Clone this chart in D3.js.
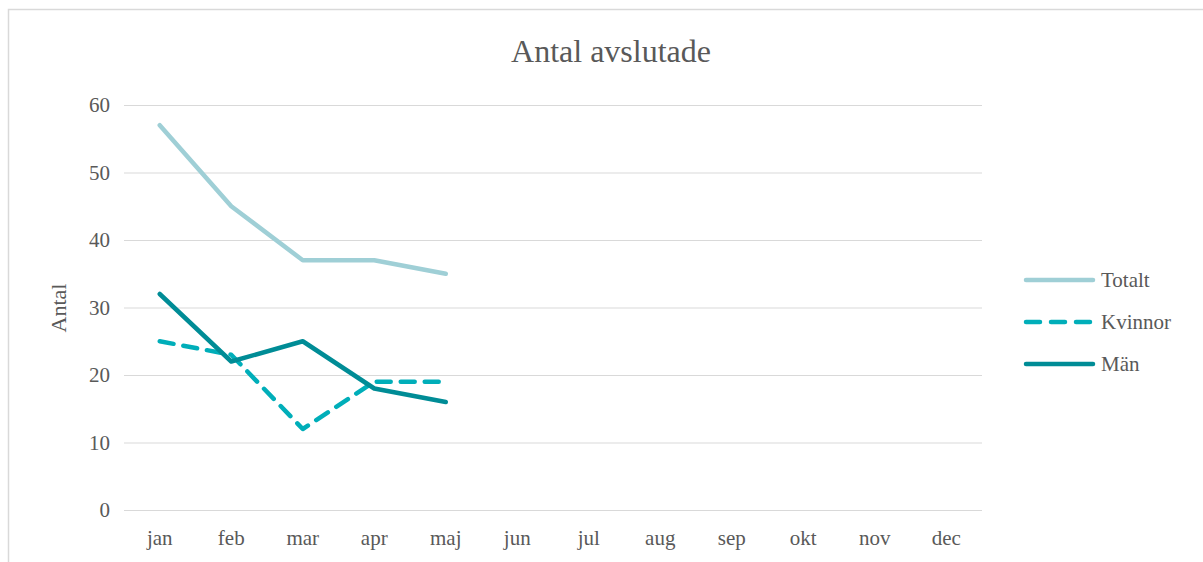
<!DOCTYPE html>
<html>
<head>
<meta charset="utf-8">
<script src="https://cdn.jsdelivr.net/npm/d3@7"></script>
<style>
  body { margin: 0; background: #fff; }
  svg { display: block; font-family: "Liberation Serif", "Times New Roman", serif; }
</style>
</head>
<body>
<svg id="chart" width="1203" height="562"></svg>
<script>
// data
var months = ["jan", "feb", "mar", "apr", "maj", "jun", "jul", "aug", "sep", "okt", "nov", "dec"];
var totalt = [57, 45, 37, 37, 35];
var kvinnor = [25, 23, 12, 19, 19];
var man = [32, 22, 25, 18, 16];
var yTicks = [0, 10, 20, 30, 40, 50, 60];

var series = [
  { name: "Totalt", values: totalt, color: "#9fcfd6", dash: null },
  { name: "Kvinnor", values: kvinnor, color: "#00aeb9", dash: "14,10" },
  { name: "Män", values: man, color: "#008c96", dash: null }
];

var svg = d3.select("#chart");

// chart frame
svg.append("rect")
  .attr("x", 8.5).attr("y", 9.5)
  .attr("width", 1300).attr("height", 700)
  .attr("fill", "none").attr("stroke", "#d9d9d9").attr("stroke-width", 1.5);

var pLeft = 124, pRight = 982, pTop = 105, pBottom = 510;

var x = d3.scaleBand().domain(months).range([pLeft, pRight]).padding(0);
var y = d3.scaleLinear().domain([0, 60]).range([pBottom, pTop]);

// gridlines
svg.append("g").selectAll("line")
  .data(yTicks).enter().append("line")
  .attr("x1", pLeft).attr("x2", pRight)
  .attr("y1", function(d) { return y(d) + 0.5; })
  .attr("y2", function(d) { return y(d) + 0.5; })
  .attr("stroke", "#d9d9d9").attr("stroke-width", 1.2);

// y axis labels
var yAxis = d3.axisLeft(y).tickValues(yTicks).tickSize(0).tickPadding(14);
var gy = svg.append("g").attr("transform", "translate(" + pLeft + ",0)").call(yAxis);
gy.select(".domain").remove();
gy.selectAll("text")
  .attr("font-family", "Liberation Serif").attr("font-size", 21).attr("fill", "#595959");

// x axis labels
var xAxis = d3.axisBottom(x).tickSize(0).tickPadding(20);
var gx = svg.append("g").attr("transform", "translate(0," + pBottom + ")").call(xAxis);
gx.select(".domain").remove();
gx.selectAll("text")
  .attr("font-family", "Liberation Serif").attr("font-size", 21).attr("fill", "#595959");

// title
svg.append("text")
  .attr("x", 611).attr("y", 62)
  .attr("text-anchor", "middle")
  .attr("font-size", 32).attr("fill", "#595959")
  .text("Antal avslutade");

// y title
svg.append("text")
  .attr("transform", "translate(66,308) rotate(-90)")
  .attr("text-anchor", "middle")
  .attr("font-size", 22).attr("fill", "#595959")
  .text("Antal");

// lines
var line = d3.line()
  .x(function(d, i) { return x(months[i]) + x.bandwidth() / 2; })
  .y(function(d) { return y(d); });

svg.append("g").selectAll("path")
  .data(series).enter().append("path")
  .attr("d", function(s) { return line(s.values); })
  .attr("fill", "none")
  .attr("stroke", function(s) { return s.color; })
  .attr("stroke-width", 4.5)
  .attr("stroke-linecap", "round")
  .attr("stroke-linejoin", "round")
  .attr("stroke-dasharray", function(s) { return s.dash; });

// legend
var legend = svg.append("g").selectAll("g")
  .data(series).enter().append("g")
  .attr("transform", function(s, i) { return "translate(1026," + (280 + i * 42) + ")"; });

legend.append("line")
  .attr("x1", 0).attr("x2", 67).attr("y1", 0).attr("y2", 0)
  .attr("stroke", function(s) { return s.color; })
  .attr("stroke-width", 4.5)
  .attr("stroke-linecap", "round")
  .attr("stroke-dasharray", function(s) { return s.dash ? "14,11" : null; });

legend.append("text")
  .attr("x", 75).attr("y", 7)
  .attr("font-size", 21).attr("fill", "#595959")
  .text(function(s) { return s.name; });
</script>
</body>
</html>
